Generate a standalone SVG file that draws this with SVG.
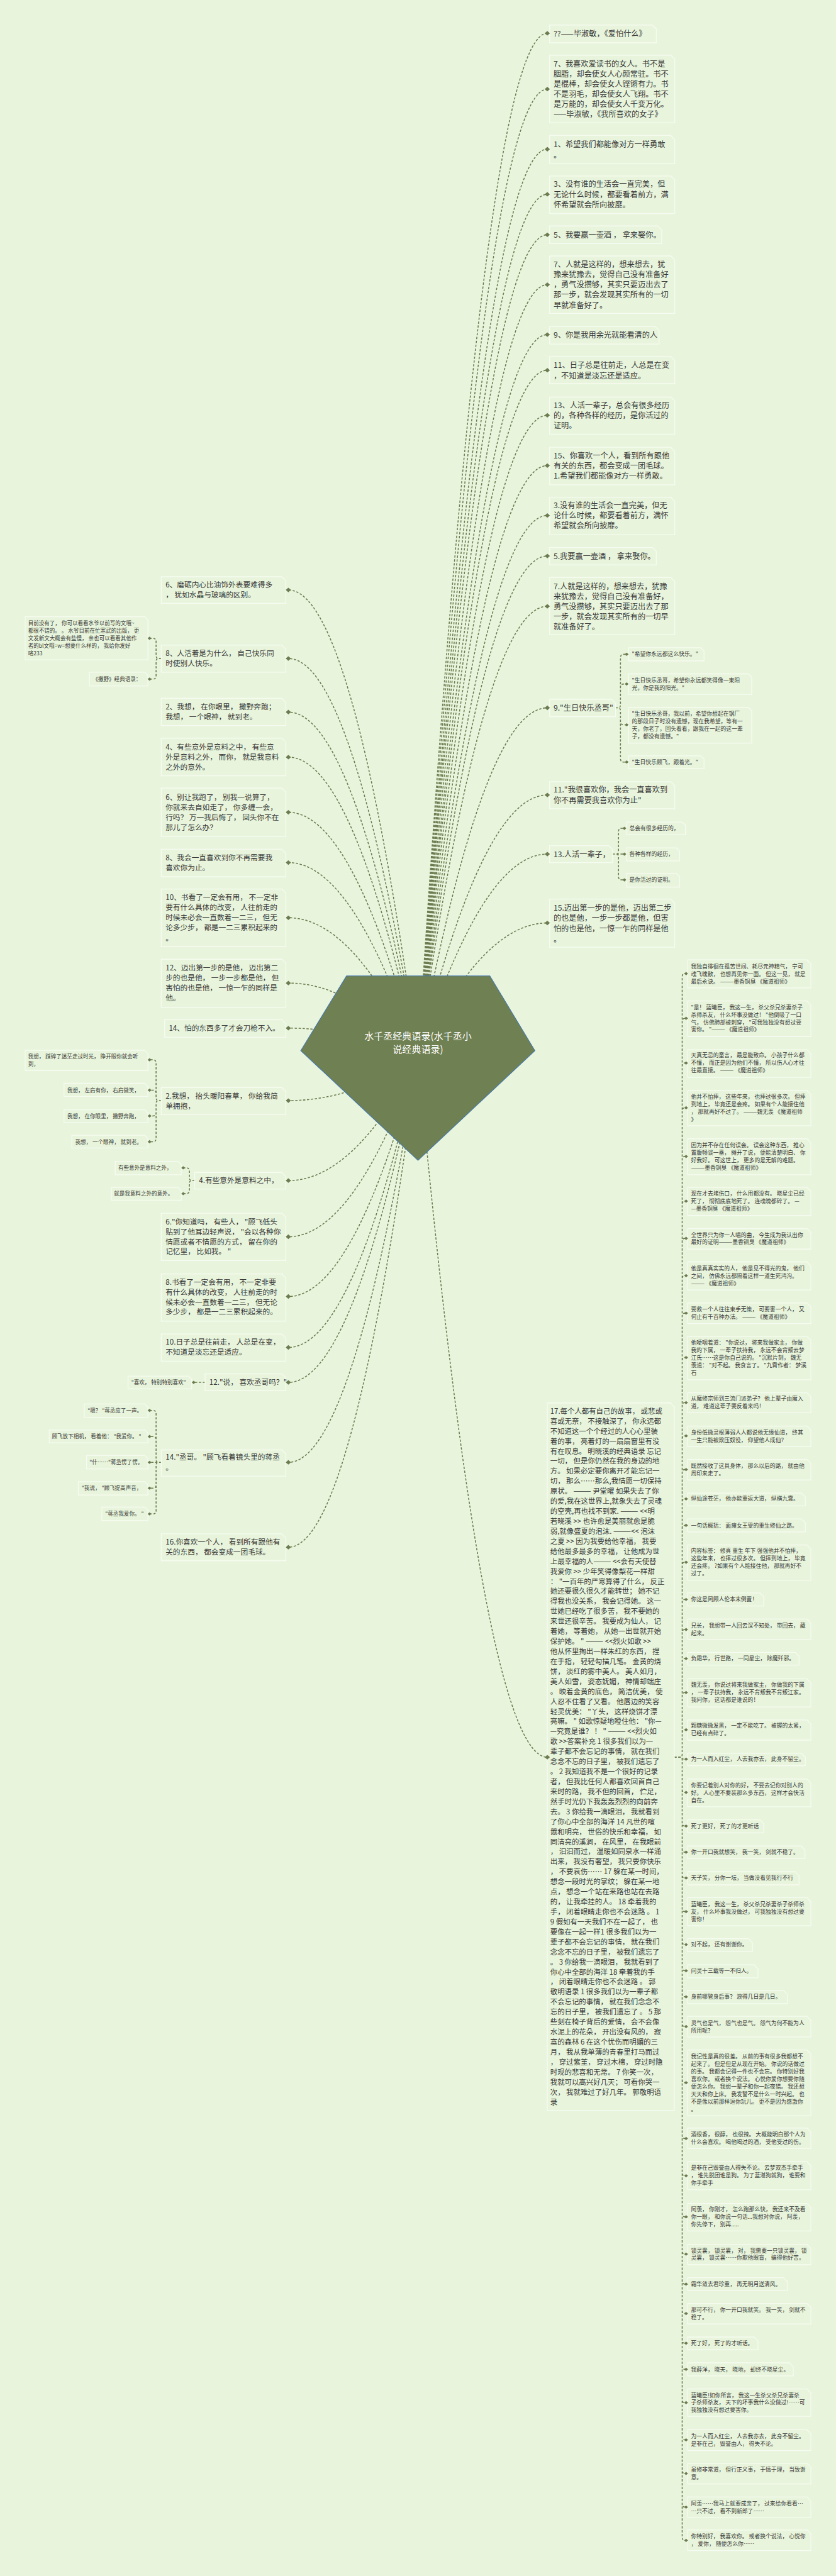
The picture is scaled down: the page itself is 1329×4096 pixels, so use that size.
<svg xmlns="http://www.w3.org/2000/svg" width="1329" height="4096" viewBox="0 0 1329 4096">
<defs>
<style>
.bx{fill:#e8f5dc;stroke:#f6fbf1;stroke-width:2.5}
.cn{fill:none;stroke:#6d7b50;stroke-width:3;stroke-dasharray:7 5}
.dm{fill:#6d7b50}
text{font-family:"Noto Sans CJK SC","Noto Sans",sans-serif;fill:#383838}
.a{font-size:23.5px}
.b{font-size:22.5px}
.s{font-size:17px}
.l{font-size:16.5px}
.p{font-size:22px}
.r{font-size:17px}
.tt{font-size:29px;fill:#ffffff}
</style>
<path id="d" class="dm" d="M-8 0L0-7L8 0L0 7Z"/>
<path id="e" class="dm" d="M-6 0L0-5L6 0L0 5Z"/>
</defs>
<rect width="1329" height="4096" fill="#e8f5dc"/>
<g transform="scale(0.519140625)">
<g id="connectors">
<path class="cn" d="M1280 3240Q1478 102 1676 102M1280 3240Q1478 273 1676 273M1280 3240Q1478 457 1676 457M1280 3240Q1478 595 1676 595M1280 3240Q1478 719 1676 719M1280 3240Q1478 872 1676 872M1280 3240Q1478 1025 1676 1025M1280 3240Q1478 1134 1676 1134M1280 3240Q1478 1272 1676 1272M1280 3240Q1478 1426 1676 1426M1280 3240Q1478 1579 1676 1579M1280 3240Q1478 1703 1676 1703M1280 3240Q1478 1857 1676 1857M1280 3240Q1478 2168 1676 2168M1280 3240Q1478 2435 1676 2435M1280 3240Q1478 2616 1676 2616M1280 3240Q1478 2827 1676 2827M1280 3240Q1478 5382 1676 5382"/>
<path class="cn" d="M1280 3240Q1082 1807 883 1807M1280 3240Q1082 2017 883 2017M1280 3240Q1082 2181 883 2181M1280 3240Q1082 2319 883 2319M1280 3240Q1082 2488 883 2488M1280 3240Q1082 2642 883 2642M1280 3240Q1082 2811 883 2811M1280 3240Q1082 3011 883 3011M1280 3240Q1082 3149 883 3149M1280 3240Q1082 3371 883 3371M1280 3240Q1082 3616 883 3616M1280 3240Q1082 3788 883 3788M1280 3240Q1082 3971 883 3971M1280 3240Q1082 4127 883 4127M1280 3240Q1082 4234 883 4234M1280 3240Q1082 4479 883 4479M1280 3240Q1082 4739 883 4739"/>
<path class="cn" d="M1885 2168H1892Q1900 2168 1900 2160V2014Q1900 2004 1910 2004H1919M1885 2168H1892Q1900 2168 1900 2160V2105Q1900 2095 1910 2095H1919M1885 2168H1892Q1900 2168 1900 2176V2210Q1900 2220 1910 2220H1919M1885 2168H1892Q1900 2168 1900 2176V2324Q1900 2334 1910 2334H1919"/>
<path class="cn" d="M1876 2616H1886Q1894 2616 1894 2608V2547Q1894 2537 1904 2537H1912M1876 2616H1912M1876 2616H1886Q1894 2616 1894 2624V2685Q1894 2695 1904 2695H1912"/>
<path class="cn" d="M494 2017H486Q478 2017 478 2009V1965Q478 1955 468 1955H458M494 2017H486Q478 2017 478 2025V2070Q478 2080 468 2080H458"/>
<path class="cn" d="M494 3371H486Q478 3371 478 3363V3256Q478 3246 468 3246H458M494 3371H486Q478 3371 478 3363V3349Q478 3339 468 3339H458M494 3371H486Q478 3371 478 3379V3408Q478 3418 468 3418H458M494 3371H486Q478 3371 478 3379V3487Q478 3497 468 3497H458"/>
<path class="cn" d="M596 3616H588Q580 3616 580 3608V3587Q580 3577 570 3577H561M596 3616H588Q580 3616 580 3624V3646Q580 3656 570 3656H561"/>
<path class="cn" d="M628 4234H593"/>
<path class="cn" d="M494 4479H486Q478 4479 478 4471V4330Q478 4320 468 4320H458M494 4479H486Q478 4479 478 4471V4410Q478 4400 468 4400H458M494 4479H458M494 4479H486Q478 4479 478 4487V4548Q478 4558 468 4558H458M494 4479H486Q478 4479 478 4487V4627Q478 4637 468 4637H458"/>
<path class="cn" d="M2065 5382H2081Q2089 5382 2089 5374V2992Q2089 2982 2097 2982H2101M2065 5382H2081Q2089 5382 2089 5374V3129Q2089 3119 2097 3119H2101M2065 5382H2081Q2089 5382 2089 5374V3266Q2089 3256 2097 3256H2101M2065 5382H2081Q2089 5382 2089 5374V3403Q2089 3393 2097 3393H2101M2065 5382H2081Q2089 5382 2089 5374V3552Q2089 3542 2097 3542H2101M2065 5382H2081Q2089 5382 2089 5374V3689Q2089 3679 2097 3679H2101M2065 5382H2081Q2089 5382 2089 5374V3803Q2089 3793 2097 3793H2101M2065 5382H2081Q2089 5382 2089 5374V3917Q2089 3907 2097 3907H2101M2065 5382H2081Q2089 5382 2089 5374V4032Q2089 4022 2097 4022H2101M2065 5382H2081Q2089 5382 2089 5374V4168Q2089 4158 2097 4158H2101M2065 5382H2081Q2089 5382 2089 5374V4306Q2089 4296 2097 4296H2101M2065 5382H2081Q2089 5382 2089 5374V4408Q2089 4398 2097 4398H2101M2065 5382H2081Q2089 5382 2089 5374V4511Q2089 4501 2097 4501H2101M2065 5382H2081Q2089 5382 2089 5374V4601Q2089 4591 2097 4591H2101M2065 5382H2081Q2089 5382 2089 5374V4682Q2089 4672 2097 4672H2101M2065 5382H2081Q2089 5382 2089 5374V4795Q2089 4785 2097 4785H2101M2065 5382H2081Q2089 5382 2089 5374V4909Q2089 4899 2097 4899H2101M2065 5382H2081Q2089 5382 2089 5374V5001Q2089 4991 2097 4991H2101M2065 5382H2081Q2089 5382 2089 5374V5090Q2089 5080 2097 5080H2101M2065 5382H2081Q2089 5382 2089 5374V5194Q2089 5184 2097 5184H2101M2065 5382H2081Q2089 5382 2089 5374V5308Q2089 5298 2097 5298H2101M2065 5382H2081Q2089 5382 2089 5386Q2089 5388 2097 5388H2101"/>
<path class="cn" d="M2065 5382H2081Q2089 5382 2089 5390V5480Q2089 5490 2097 5490H2101M2065 5382H2081Q2089 5382 2089 5390V5583Q2089 5593 2097 5593H2101M2065 5382H2081Q2089 5382 2089 5390V5663Q2089 5673 2097 5673H2101M2065 5382H2081Q2089 5382 2089 5390V5742Q2089 5752 2097 5752H2101M2065 5382H2081Q2089 5382 2089 5390V5845Q2089 5855 2097 5855H2101M2065 5382H2081Q2089 5382 2089 5390V5946Q2089 5956 2097 5956H2101M2065 5382H2081Q2089 5382 2089 5390V6026Q2089 6036 2097 6036H2101M2065 5382H2081Q2089 5382 2089 5390V6106Q2089 6116 2097 6116H2101M2065 5382H2081Q2089 5382 2089 5390V6197Q2089 6207 2097 6207H2101M2065 5382H2081Q2089 5382 2089 5390V6369Q2089 6379 2097 6379H2101M2065 5382H2081Q2089 5382 2089 5390V6540Q2089 6550 2097 6550H2101M2065 5382H2081Q2089 5382 2089 5390V6654Q2089 6664 2097 6664H2101M2065 5382H2081Q2089 5382 2089 5390V6780Q2089 6790 2097 6790H2101M2065 5382H2081Q2089 5382 2089 5390V6894Q2089 6904 2097 6904H2101M2065 5382H2081Q2089 5382 2089 5390V6986Q2089 6996 2097 6996H2101M2065 5382H2081Q2089 5382 2089 5390V7076Q2089 7086 2097 7086H2101M2065 5382H2081Q2089 5382 2089 5390V7167Q2089 7177 2097 7177H2101M2065 5382H2081Q2089 5382 2089 5390V7247Q2089 7257 2097 7257H2101M2065 5382H2081Q2089 5382 2089 5390V7349Q2089 7359 2097 7359H2101M2065 5382H2081Q2089 5382 2089 5390V7463Q2089 7473 2097 7473H2101M2065 5382H2081Q2089 5382 2089 5390V7566Q2089 7576 2097 7576H2101M2065 5382H2081Q2089 5382 2089 5390V7669Q2089 7679 2097 7679H2101M2065 5382H2081Q2089 5382 2089 5390V7771Q2089 7781 2097 7781H2101"/>
</g>
<g id="center">
<path d="M1061 2989H1500L1638 3218L1280 3554L921 3218Z" fill="#6f8053" stroke="#3f74b5" stroke-width="2"/>
<text class="tt" text-anchor="middle" x="1280" y="3184">水千丞经典语录(水千丞小<tspan x="1280" dy="41">说经典语录)</tspan></text>
</g>
<g id="n1"><path class="bx" d="M1683 77H1998L2010 89V131H1683Z"/><use href="#d" x="1676" y="102"/><text class="a" x="1695" y="111">??——毕淑敏，《爱怕什么》</text></g>
<g id="n2"><path class="bx" d="M1683 169H2054L2066 181V376H1683Z"/><use href="#d" x="1676" y="273"/><text class="a" y="204"><tspan x="1695">7、我喜欢爱读书的女人。书不是</tspan><tspan x="1695" dy="31">胭脂，却会使女人心颜常驻。书不</tspan><tspan x="1695" dy="31">是棍棒，却会使女人铿锵有力。书</tspan><tspan x="1695" dy="31">不是羽毛，却会使女人飞翔。书不</tspan><tspan x="1695" dy="31">是万能的，却会使女人千变万化。</tspan><tspan x="1695" dy="31">——毕淑敏，《我所喜欢的女子》</tspan></text></g>
<g id="n3"><path class="bx" d="M1683 415H2054L2066 427V501H1683Z"/><use href="#d" x="1676" y="457"/><text class="a" y="450"><tspan x="1695">1、希望我们都能像对方一样勇敢</tspan><tspan x="1695" dy="33">。</tspan></text></g>
<g id="n4"><path class="bx" d="M1683 539H2054L2066 551V654H1683Z"/><use href="#d" x="1676" y="595"/><text class="a" y="573"><tspan x="1695">3、没有谁的生活会一直完美，但</tspan><tspan x="1695" dy="31">无论什么时候，都要看着前方，满</tspan><tspan x="1695" dy="31">怀希望就会所向披靡。</tspan></text></g>
<g id="n5"><path class="bx" d="M1683 692H2014L2026 704V746H1683Z"/><use href="#d" x="1676" y="719"/><text class="a" x="1695" y="728">5、我要赢一壶酒 ， 拿来娶你。</text></g>
<g id="n6"><path class="bx" d="M1683 784H2054L2066 796V960H1683Z"/><use href="#d" x="1676" y="872"/><text class="a" y="819"><tspan x="1695">7、人就是这样的，想来想去，犹</tspan><tspan x="1695" dy="31">豫来犹豫去，觉得自己没有准备好</tspan><tspan x="1695" dy="31">，勇气没攒够，其实只要迈出去了</tspan><tspan x="1695" dy="31">那一步，就会发现其实所有的一切</tspan><tspan x="1695" dy="31">早就准备好了。</tspan></text></g>
<g id="n7"><path class="bx" d="M1683 1000H2006L2018 1012V1054H1683Z"/><use href="#d" x="1676" y="1025"/><text class="a" x="1695" y="1035">9、你是我用余光就能看清的人</text></g>
<g id="n8"><path class="bx" d="M1683 1092H2054L2066 1104V1175H1683Z"/><use href="#d" x="1676" y="1134"/><text class="a" y="1127"><tspan x="1695">11、日子总是往前走，人总是在变</tspan><tspan x="1695" dy="32">，不知道是淡忘还是适应。</tspan></text></g>
<g id="n9"><path class="bx" d="M1683 1216H2054L2066 1228V1330H1683Z"/><use href="#d" x="1676" y="1272"/><text class="a" y="1250"><tspan x="1695">13、人活一辈子，总会有很多经历</tspan><tspan x="1695" dy="31">的，各种各样的经历，是你活过的</tspan><tspan x="1695" dy="31">证明。</tspan></text></g>
<g id="n10"><path class="bx" d="M1683 1370H2054L2066 1382V1485H1683Z"/><use href="#d" x="1676" y="1426"/><text class="a" y="1404"><tspan x="1695">15、你喜欢一个人，看到所有跟他</tspan><tspan x="1695" dy="31">有关的东西，都会变成一团毛球。</tspan><tspan x="1695" dy="31">1.希望我们都能像对方一样勇敢。</tspan></text></g>
<g id="n11"><path class="bx" d="M1683 1523H2054L2066 1535V1638H1683Z"/><use href="#d" x="1676" y="1579"/><text class="a" y="1557"><tspan x="1695">3.没有谁的生活会一直完美，但无</tspan><tspan x="1695" dy="31">论什么时候，都要看着前方，满怀</tspan><tspan x="1695" dy="31">希望就会所向披靡。</tspan></text></g>
<g id="n12"><path class="bx" d="M1683 1677H1998L2010 1689V1730H1683Z"/><use href="#d" x="1676" y="1703"/><text class="a" x="1695" y="1712">5.我要赢一壶酒 ， 拿来娶你。</text></g>
<g id="n13"><path class="bx" d="M1683 1769H2054L2066 1781V1944H1683Z"/><use href="#d" x="1676" y="1857"/><text class="a" y="1804"><tspan x="1695">7.人就是这样的，想来想去，犹豫</tspan><tspan x="1695" dy="31">来犹豫去，觉得自己没有准备好，</tspan><tspan x="1695" dy="31">勇气没攒够，其实只要迈出去了那</tspan><tspan x="1695" dy="31">一步，就会发现其实所有的一切早</tspan><tspan x="1695" dy="31">就准备好了。</tspan></text></g>
<g id="n14"><path class="bx" d="M1683 2142H1873L1885 2154V2195H1683Z"/><use href="#d" x="1676" y="2168"/><text class="a" x="1695" y="2177">9."生日快乐丞哥"</text></g>
<g id="n14a"><path class="bx" d="M1925 1984H2146L2156 1994V2024H1925Z"/><use href="#e" x="1919" y="2004"/><text class="s" x="1935" y="2010">"希望你永远都这么快乐。"</text></g>
<g id="n14b"><path class="bx" d="M1925 2064H2292L2302 2074V2127H1925Z"/><use href="#e" x="1919" y="2095"/><text class="s" y="2090"><tspan x="1935">"生日快乐丞哥，希望你永远都笑得像一束阳</tspan><tspan x="1935" dy="23">光，你是我的阳光。"</tspan></text></g>
<g id="n14c"><path class="bx" d="M1925 2167H2292L2302 2177V2276H1925Z"/><use href="#e" x="1919" y="2220"/><text class="s" y="2192"><tspan x="1935">"生日快乐丞哥，我以前，希望你想起在钢厂</tspan><tspan x="1935" dy="23">的那段日子时没有遗憾，现在我希望，等有一</tspan><tspan x="1935" dy="23">天，你老了，回头看看，跟我在一起的这一辈</tspan><tspan x="1935" dy="23">子，都没有遗憾。"</tspan></text></g>
<g id="n14d"><path class="bx" d="M1925 2315H2146L2156 2325V2354H1925Z"/><use href="#e" x="1919" y="2334"/><text class="s" x="1935" y="2340">"生日快乐顾飞，跟着光。"</text></g>
<g id="n15"><path class="bx" d="M1683 2394H2054L2066 2406V2477H1683Z"/><use href="#d" x="1676" y="2435"/><text class="a" y="2428"><tspan x="1695">11."我很喜欢你，我会一直喜欢到</tspan><tspan x="1695" dy="31">你不再需要我喜欢你为止"</tspan></text></g>
<g id="n16"><path class="bx" d="M1683 2590H1864L1876 2602V2642H1683Z"/><use href="#d" x="1676" y="2616"/><text class="a" x="1695" y="2625">13.人活一辈子，</text></g>
<g id="n16a"><path class="bx" d="M1919 2518H2089L2099 2528V2557H1919Z"/><use href="#e" x="1912" y="2537"/><text class="s" x="1927" y="2543">总会有很多经历的，</text></g>
<g id="n16b"><path class="bx" d="M1919 2597H2071L2081 2607V2637H1919Z"/><use href="#e" x="1912" y="2616"/><text class="s" x="1927" y="2622">各种各样的经历，</text></g>
<g id="n16c"><path class="bx" d="M1919 2675H2071L2081 2685V2717H1919Z"/><use href="#e" x="1912" y="2695"/><text class="s" x="1927" y="2701">是你活过的证明。</text></g>
<g id="n17"><path class="bx" d="M1683 2754H2054L2066 2766V2901H1683Z"/><use href="#d" x="1676" y="2827"/><text class="a" y="2790"><tspan x="1695">15.迈出第一步的是他，迈出第二步</tspan><tspan x="1695" dy="31">的也是他，一步一步都是他，但害</tspan><tspan x="1695" dy="31">怕的也是他，一惊一乍的同样是他</tspan><tspan x="1695" dy="33">。</tspan></text></g>
<g id="l1"><path class="bx" d="M494 1766H863L875 1778V1848H494Z"/><use href="#d" x="883" y="1807"/><text class="b" y="1800"><tspan x="507">6、磨砺内心比油饰外表要难得多</tspan><tspan x="507" dy="30.6">， 犹如水晶与玻璃的区别。</tspan></text></g>
<g id="l2"><path class="bx" d="M494 1976H863L875 1988V2059H494Z"/><use href="#d" x="883" y="2017"/><text class="b" y="2010"><tspan x="507">8、人活着是为什么， 自己快乐同</tspan><tspan x="507" dy="30.6">时使别人快乐。</tspan></text></g>
<g id="l2a"><path class="bx" d="M77 1889H443L453 1899V2021H77Z"/><use href="#e" x="458" y="1955"/><text class="l" y="1915"><tspan x="86">目前没有了， 你可以看看水爷以前写的文哦~</tspan><tspan x="86" dy="23">都很不错的。 。 水爷目前在忙寒武的出版， 更</tspan><tspan x="86" dy="23">文发新文大概会有些慢， 亲也可以看看其他作</tspan><tspan x="86" dy="23">者的bl文哦=w=想要什么样的， 我给你发好</tspan><tspan x="86" dy="23">咯233</tspan></text></g>
<g id="l2b"><path class="bx" d="M274 2059H443L453 2069V2101H274Z"/><use href="#e" x="458" y="2080"/><text class="l" x="284" y="2086">《撒野》经典语录：</text></g>
<g id="l3"><path class="bx" d="M494 2139H863L875 2151V2222H494Z"/><use href="#d" x="883" y="2181"/><text class="b" y="2173"><tspan x="507">2、我想， 在你眼里， 撒野奔跑；</tspan><tspan x="507" dy="30.6">我想， 一个眼神， 就到老。</tspan></text></g>
<g id="l4"><path class="bx" d="M494 2261H863L875 2273V2376H494Z"/><use href="#d" x="883" y="2319"/><text class="b" y="2297"><tspan x="507">4、有些意外是意料之中， 有些意</tspan><tspan x="507" dy="30.6">外是意料之外， 而你， 就是我意料</tspan><tspan x="507" dy="30.6">之外的意外。</tspan></text></g>
<g id="l5"><path class="bx" d="M494 2414H863L875 2426V2562H494Z"/><use href="#d" x="883" y="2488"/><text class="b" y="2450"><tspan x="507">6、别让我跑了， 别我一说算了，</tspan><tspan x="507" dy="30.6">你就来去自如走了， 你多缠一会，</tspan><tspan x="507" dy="30.6">行吗？ 万一我后悔了， 回头你不在</tspan><tspan x="507" dy="30.6">那儿了怎么办？</tspan></text></g>
<g id="l6"><path class="bx" d="M494 2601H863L875 2613V2685H494Z"/><use href="#d" x="883" y="2642"/><text class="b" y="2635"><tspan x="507">8、我会一直喜欢到你不再需要我</tspan><tspan x="507" dy="30.6">喜欢你为止。</tspan></text></g>
<g id="l7"><path class="bx" d="M494 2723H863L875 2735V2899H494Z"/><use href="#d" x="883" y="2811"/><text class="b" y="2757"><tspan x="507">10、书看了一定会有用， 不一定非</tspan><tspan x="507" dy="30.6">要有什么具体的改变， 人往前走的</tspan><tspan x="507" dy="30.6">时候未必会一直数着一二三， 但无</tspan><tspan x="507" dy="30.6">论多少步， 都是一二三累积起来的</tspan><tspan x="507" dy="32">。</tspan></text></g>
<g id="l8"><path class="bx" d="M494 2938H863L875 2950V3085H494Z"/><use href="#d" x="883" y="3011"/><text class="b" y="2973"><tspan x="507">12、迈出第一步的是他， 迈出第二</tspan><tspan x="507" dy="30.6">步的也是他， 一步一步都是他， 但</tspan><tspan x="507" dy="30.6">害怕的也是他， 一惊一乍的同样是</tspan><tspan x="507" dy="30.6">他。</tspan></text></g>
<g id="l9"><path class="bx" d="M504 3123H863L875 3135V3177H504Z"/><use href="#d" x="883" y="3149"/><text class="b" x="517" y="3157">14、怕的东西多了才会刀枪不入。</text></g>
<g id="l10"><path class="bx" d="M494 3331H863L875 3343V3414H494Z"/><use href="#d" x="883" y="3371"/><text class="b" y="3366"><tspan x="507">2.我想， 抬头暖阳春草， 你给我简</tspan><tspan x="507" dy="30.6">单拥抱，</tspan></text></g>
<g id="l10a"><path class="bx" d="M77 3217H443L453 3227V3279H77Z"/><use href="#e" x="458" y="3246"/><text class="l" y="3242"><tspan x="86">我想， 踩碎了迷茫走过时光， 睁开眼你就会听</tspan><tspan x="86" dy="23">到，</tspan></text></g>
<g id="l10b"><path class="bx" d="M196 3318H443L453 3328V3358H196Z"/><use href="#e" x="458" y="3339"/><text class="l" x="206" y="3345">我想， 左肩有你， 右肩微笑，</text></g>
<g id="l10c"><path class="bx" d="M196 3399H443L453 3409V3438H196Z"/><use href="#e" x="458" y="3418"/><text class="l" x="206" y="3424">我想， 在你眼里， 撒野奔跑，</text></g>
<g id="l10d"><path class="bx" d="M220 3477H443L453 3487V3516H220Z"/><use href="#e" x="458" y="3497"/><text class="l" x="230" y="3503">我想， 一个眼神， 就到老。</text></g>
<g id="l11"><path class="bx" d="M596 3591H863L875 3603V3642H596Z"/><use href="#d" x="883" y="3616"/><text class="b" x="609" y="3624">4.有些意外是意料之中，</text></g>
<g id="l11a"><path class="bx" d="M353 3557H545L555 3567V3598H353Z"/><use href="#e" x="561" y="3577"/><text class="l" x="362" y="3583">有些意外是意料之外，</text></g>
<g id="l11b"><path class="bx" d="M341 3637H545L555 3647V3676H341Z"/><use href="#e" x="561" y="3656"/><text class="l" x="349" y="3662">就是我意料之外的意外。</text></g>
<g id="l12"><path class="bx" d="M494 3716H863L875 3728V3861H494Z"/><use href="#d" x="883" y="3788"/><text class="b" y="3750"><tspan x="507">6."你知道吗， 有些人， "顾飞低头</tspan><tspan x="507" dy="30.6">贴到了他耳边轻声说， "会以各种你</tspan><tspan x="507" dy="30.6">情愿或者不情愿的方式， 留在你的</tspan><tspan x="507" dy="30.6">记忆里， 比如我。 "</tspan></text></g>
<g id="l13"><path class="bx" d="M494 3902H863L875 3914V4047H494Z"/><use href="#d" x="883" y="3971"/><text class="b" y="3935"><tspan x="507">8.书看了一定会有用， 不一定非要</tspan><tspan x="507" dy="30.6">有什么具体的改变， 人往前走的时</tspan><tspan x="507" dy="30.6">候未必会一直数着一二三， 但无论</tspan><tspan x="507" dy="30.6">多少步， 都是一二三累积起来的。</tspan></text></g>
<g id="l14"><path class="bx" d="M494 4086H863L875 4098V4169H494Z"/><use href="#d" x="883" y="4127"/><text class="b" y="4119"><tspan x="507">10.日子总是往前走， 人总是在变，</tspan><tspan x="507" dy="30.6">不知道是淡忘还是适应。</tspan></text></g>
<g id="l15"><path class="bx" d="M628 4208H863L875 4220V4259H628Z"/><use href="#d" x="883" y="4234"/><text class="b" x="641" y="4242">12."说， 喜欢丞哥吗？"</text></g>
<g id="l15a"><path class="bx" d="M392 4215H577L587 4225V4254H392Z"/><use href="#e" x="593" y="4234"/><text class="l" x="402" y="4240">"喜欢， 特别特别喜欢"</text></g>
<g id="l16"><path class="bx" d="M494 4441H863L875 4453V4521H494Z"/><use href="#d" x="883" y="4479"/><text class="b" y="4471"><tspan x="507">14."丞哥。 "顾飞看着镜头里的蒋丞</tspan><tspan x="507" dy="33">。</tspan></text></g>
<g id="l16a"><path class="bx" d="M258 4300H443L453 4310V4341H258Z"/><use href="#e" x="458" y="4320"/><text class="l" x="268" y="4326">"嗯？ "蒋丞应了一声。</text></g>
<g id="l16b"><path class="bx" d="M151 4380H443L453 4390V4419H151Z"/><use href="#e" x="458" y="4400"/><text class="l" x="159" y="4406">顾飞放下相机， 看着他： "我爱你。 "</text></g>
<g id="l16c"><path class="bx" d="M265 4458H443L453 4468V4499H265Z"/><use href="#e" x="458" y="4479"/><text class="l" x="274" y="4485">"什……"蒋丞愣了愣。</text></g>
<g id="l16d"><path class="bx" d="M240 4538H443L453 4548V4579H240Z"/><use href="#e" x="458" y="4558"/><text class="l" x="250" y="4564">"我说， "顾飞提高声音，</text></g>
<g id="l16e"><path class="bx" d="M312 4616H443L453 4626V4657H312Z"/><use href="#e" x="458" y="4637"/><text class="l" x="322" y="4643">"蒋丞我爱你。 "</text></g>
<g id="l17"><path class="bx" d="M494 4698H863L875 4710V4780H494Z"/><use href="#d" x="883" y="4739"/><text class="b" y="4731"><tspan x="507">16.你喜欢一个人， 看到所有跟他有</tspan><tspan x="507" dy="30.6">关的东西， 都会变成一团毛球。</tspan></text></g>
<g id="p17"><path class="bx" d="M1676 4297H2053L2065 4309V6464H1676Z"/><use href="#d" x="1676" y="5382"/><text class="p" y="4330"><tspan x="1685">17.每个人都有自己的故事， 或悲或</tspan><tspan x="1685" dy="30.67">喜或无奈， 不接触深了， 你永远都</tspan><tspan x="1685" dy="30.67">不知道这一个个经过的人心心里装</tspan><tspan x="1685" dy="30.67">着的事， 亮着灯的一扇扇窗里有没</tspan><tspan x="1685" dy="30.67">有在叹息。 明晓溪的经典语录 忘记</tspan><tspan x="1685" dy="30.67">一切， 但是你仍然在我的身边的地</tspan><tspan x="1685" dy="30.67">方。 如果必定要你离开才能忘记一</tspan><tspan x="1685" dy="30.67">切， 那么……那么,我情愿一切保持</tspan><tspan x="1685" dy="30.67">原状。 ——— 尹堂曜 如果失去了你</tspan><tspan x="1685" dy="30.67">的爱,我在这世界上,就象失去了灵魂</tspan><tspan x="1685" dy="30.67">的空壳,再也找不到家. ——— &lt;&lt;明</tspan><tspan x="1685" dy="30.67">若晓溪 &gt;&gt; 也许愈是美丽就愈是脆</tspan><tspan x="1685" dy="30.67">弱,就像盛夏的泡沫. ———&lt;&lt; 泡沫</tspan><tspan x="1685" dy="30.67">之夏 &gt;&gt; 因为我要给他幸福， 我要</tspan><tspan x="1685" dy="30.67">给他最多最多的幸福， 让他成为世</tspan><tspan x="1685" dy="30.67">上最幸福的人——— &lt;&lt;会有天使替</tspan><tspan x="1685" dy="30.67">我爱你 &gt;&gt; 少年笑得像梨花一样甜</tspan><tspan x="1685" dy="30.67">： "一百年的严寒算得了什么， 反正</tspan><tspan x="1685" dy="30.67">她还要很久很久才能转世； 她不记</tspan><tspan x="1685" dy="30.67">得我也没关系， 我会记得她。 这一</tspan><tspan x="1685" dy="30.67">世她已经吃了很多苦， 我不要她的</tspan><tspan x="1685" dy="30.67">来世还很辛苦。 我要成为仙人， 记</tspan><tspan x="1685" dy="30.67">着她， 等着她， 从她一出世就开始</tspan><tspan x="1685" dy="30.67">保护她。 " ——— &lt;&lt;烈火如歌 &gt;&gt;</tspan><tspan x="1685" dy="30.67">他从怀里掏出一样朱红的东西， 捏</tspan><tspan x="1685" dy="30.67">在手指， 轻轻勾描几笔。 金黄的烧</tspan><tspan x="1685" dy="30.67">饼， 淡红的雾中美人。 美人如月，</tspan><tspan x="1685" dy="30.67">美人如雪， 姿态妩媚， 神情却端庄</tspan><tspan x="1685" dy="30.67">。 映着金黄的底色， 简洁优美， 使</tspan><tspan x="1685" dy="30.67">人忍不住看了又看。 他唇边的笑容</tspan><tspan x="1685" dy="30.67">轻灵优美： "丫头， 这样烧饼才漂</tspan><tspan x="1685" dy="30.67">亮嘛。 " 如歌惊疑地瞪住他： "你—</tspan><tspan x="1685" dy="30.67">—究竟是谁？ ！ " ——— &lt;&lt;烈火如</tspan><tspan x="1685" dy="30.67">歌 &gt;&gt;答案补充 1 很多我们以为一</tspan><tspan x="1685" dy="30.67">辈子都不会忘记的事情， 就在我们</tspan><tspan x="1685" dy="30.67">念念不忘的日子里， 被我们遗忘了</tspan><tspan x="1685" dy="30.67">。 2 我知道我不是一个很好的记录</tspan><tspan x="1685" dy="30.67">者， 但我比任何人都喜欢回首自己</tspan><tspan x="1685" dy="30.67">来时的路， 我不但的回首， 伫足，</tspan><tspan x="1685" dy="30.67">然手时光仍下我轰轰烈烈的向前奔</tspan><tspan x="1685" dy="30.67">去。 3 你给我一滴眼泪， 我就看到</tspan><tspan x="1685" dy="30.67">了你心中全部的海洋 14 凡世的喧</tspan><tspan x="1685" dy="30.67">嚣和明亮， 世俗的快乐和幸福， 如</tspan><tspan x="1685" dy="30.67">同清亮的溪涧， 在风里， 在我眼前</tspan><tspan x="1685" dy="30.67">， 汩汩而过， 温暖如同泉水一样涌</tspan><tspan x="1685" dy="30.67">出来， 我没有奢望， 我只要你快乐</tspan><tspan x="1685" dy="30.67">， 不要哀伤…… 17 躲在某一时间，</tspan><tspan x="1685" dy="30.67">想念一段时光的掌纹； 躲在某一地</tspan><tspan x="1685" dy="30.67">点， 想念一个站在来路也站在去路</tspan><tspan x="1685" dy="30.67">的， 让我牵挂的人。 18 牵着我的</tspan><tspan x="1685" dy="30.67">手， 闭着眼睛走你也不会迷路 。 1</tspan><tspan x="1685" dy="30.67">9 假如有一天我们不在一起了， 也</tspan><tspan x="1685" dy="30.67">要像在一起一样1 很多我们以为一</tspan><tspan x="1685" dy="30.67">辈子都不会忘记的事情， 就在我们</tspan><tspan x="1685" dy="30.67">念念不忘的日子里， 被我们遗忘了</tspan><tspan x="1685" dy="30.67">。 3 你给我一滴眼泪， 我就看到了</tspan><tspan x="1685" dy="30.67">你心中全部的海洋 18 牵着我的手</tspan><tspan x="1685" dy="30.67">， 闭着眼睛走你也不会迷路 。 郭</tspan><tspan x="1685" dy="30.67">敬明语录 1 很多我们以为一辈子都</tspan><tspan x="1685" dy="30.67">不会忘记的事情， 就在我们念念不</tspan><tspan x="1685" dy="30.67">忘的日子里， 被我们遗忘了 。 5 那</tspan><tspan x="1685" dy="30.67">些刻在椅子背后的爱情， 会不会像</tspan><tspan x="1685" dy="30.67">水泥上的花朵， 开出没有风的， 寂</tspan><tspan x="1685" dy="30.67">寞的森林 6 在这个忧伤而明媚的三</tspan><tspan x="1685" dy="30.67">月， 我从我单薄的青春里打马而过</tspan><tspan x="1685" dy="30.67">， 穿过紫堇， 穿过木棉， 穿过时隐</tspan><tspan x="1685" dy="30.67">时现的悲喜和无常。 7 你笑一次，</tspan><tspan x="1685" dy="30.67">我就可以高兴好几天； 可看你哭一</tspan><tspan x="1685" dy="30.67">次， 我就难过了好几年。 郭敬明语</tspan><tspan x="1685" dy="30.67">录</tspan></text></g>
<g id="r1"><path class="bx" d="M2106 2940H2471L2483 2952V3026H2106Z"/><use href="#e" x="2101" y="2982"/><text class="r" y="2966"><tspan x="2116">我独自徘徊在孤苦世间、耗尽元神精气， 宁可</tspan><tspan x="2116" dy="23">魂飞魄散， 也想再见你一面。 但这一见， 就是</tspan><tspan x="2116" dy="23">最后永诀。 ———墨香铜臭 《魔道祖师》</tspan></text></g>
<g id="r2"><path class="bx" d="M2106 3066H2471L2483 3078V3175H2106Z"/><use href="#e" x="2101" y="3119"/><text class="r" y="3091"><tspan x="2116">"是！ 蓝曦臣， 我这一生， 杀父杀兄杀妻杀子</tspan><tspan x="2116" dy="23">杀师杀友， 什么坏事没做过！ "他倒吸了一口</tspan><tspan x="2116" dy="23">气， 仿佛肺部被刺穿， "可我独独没有想过要</tspan><tspan x="2116" dy="23">害你。 "——— 《魔道祖师》</tspan></text></g>
<g id="r3"><path class="bx" d="M2106 3215H2471L2483 3227V3300H2106Z"/><use href="#e" x="2101" y="3256"/><text class="r" y="3239"><tspan x="2116">天真无忌的童言， 最是能致命。 小孩子什么都</tspan><tspan x="2116" dy="23">不懂， 而正是因为他们不懂， 所以伤人心才往</tspan><tspan x="2116" dy="23">往最直接。 ——— 《魔道祖师》</tspan></text></g>
<g id="r4"><path class="bx" d="M2106 3340H2471L2483 3352V3448H2106Z"/><use href="#e" x="2101" y="3393"/><text class="r" y="3365"><tspan x="2116">他并不怕摔， 这些年来， 也摔过很多次。 但摔</tspan><tspan x="2116" dy="23">到地上， 毕竟还是会疼。 如果有个人能接住他</tspan><tspan x="2116" dy="23">， 那就再好不过了。 ———魏无羡 《魔道祖师</tspan><tspan x="2116" dy="23">》</tspan></text></g>
<g id="r5"><path class="bx" d="M2106 3488H2471L2483 3500V3598H2106Z"/><use href="#e" x="2101" y="3542"/><text class="r" y="3513"><tspan x="2116">因为并不存在任何误会。 误会这种东西， 推心</tspan><tspan x="2116" dy="23">置腹畅谈一番， 摊开了说， 便能清楚明白、 你</tspan><tspan x="2116" dy="23">好我好。 可这世上， 更多的是无解的难题。</tspan><tspan x="2116" dy="23">———墨香铜臭 《魔道祖师》</tspan></text></g>
<g id="r6"><path class="bx" d="M2106 3637H2471L2483 3649V3723H2106Z"/><use href="#e" x="2101" y="3679"/><text class="r" y="3662"><tspan x="2116">现在才去堵伤口， 什么用都没有。 晓星尘已经</tspan><tspan x="2116" dy="23">死了， 彻彻底底地死了。 连魂魄都碎了。 —</tspan><tspan x="2116" dy="23">—墨香铜臭 《魔道祖师》</tspan></text></g>
<g id="r7"><path class="bx" d="M2106 3763H2471L2483 3775V3826H2106Z"/><use href="#e" x="2101" y="3793"/><text class="r" y="3788"><tspan x="2116">全世界只为你一人唱的曲， 今生成为我认出你</tspan><tspan x="2116" dy="23">最好的证明———墨香铜臭 《魔道祖师》</tspan></text></g>
<g id="r8"><path class="bx" d="M2106 3865H2471L2483 3877V3951H2106Z"/><use href="#e" x="2101" y="3907"/><text class="r" y="3891"><tspan x="2116">他是真真实实的人， 他是见不得光的鬼， 他们</tspan><tspan x="2116" dy="23">之间， 仿佛永远都隔着这样一道生死鸿沟。</tspan><tspan x="2116" dy="23">——— 《魔道祖师》</tspan></text></g>
<g id="r9"><path class="bx" d="M2106 3991H2471L2483 4003V4054H2106Z"/><use href="#e" x="2101" y="4022"/><text class="r" y="4016"><tspan x="2116">要救一个人往往束手无策， 可要害一个人， 又</tspan><tspan x="2116" dy="23">何止有千百种办法。 ——— 《魔道祖师》</tspan></text></g>
<g id="r10"><path class="bx" d="M2106 4093H2471L2483 4105V4226H2106Z"/><use href="#e" x="2101" y="4158"/><text class="r" y="4118"><tspan x="2116">他哽咽着道： "你说过， 将来我做家主， 你做</tspan><tspan x="2116" dy="23">我的下属， 一辈子扶持我， 永远不会背叛云梦</tspan><tspan x="2116" dy="23">江氏……这是你自己说的。 "沉默片刻， 魏无</tspan><tspan x="2116" dy="23">羡道： "对不起。 我食言了。 "九霄作者： 梦溪</tspan><tspan x="2116" dy="23">石</tspan></text></g>
<g id="r11"><path class="bx" d="M2106 4266H2471L2483 4278V4327H2106Z"/><use href="#e" x="2101" y="4296"/><text class="r" y="4290"><tspan x="2116">从魔修宗师到三流门派弟子？ 他上辈子由魔入</tspan><tspan x="2116" dy="23">道， 难道这辈子要反着来吗！</tspan></text></g>
<g id="r12"><path class="bx" d="M2106 4368H2471L2483 4380V4431H2106Z"/><use href="#e" x="2101" y="4398"/><text class="r" y="4393"><tspan x="2116">身份低微灵根薄弱人人都说他无缘仙道， 终其</tspan><tspan x="2116" dy="23">一生只能被欺压奴役， 仰望他人成仙？</tspan></text></g>
<g id="r13"><path class="bx" d="M2106 4470H2471L2483 4482V4533H2106Z"/><use href="#e" x="2101" y="4501"/><text class="r" y="4496"><tspan x="2116">既然接收了这具身体， 那么以后的路， 就由他</tspan><tspan x="2116" dy="23">周印来走了。</tspan></text></g>
<g id="r14"><path class="bx" d="M2106 4573H2454L2466 4585V4612H2106Z"/><use href="#e" x="2101" y="4591"/><text class="r" x="2116" y="4597">纵仙途苍茫， 他亦能重返大道， 纵横九霄。</text></g>
<g id="r15"><path class="bx" d="M2106 4652H2454L2466 4664V4692H2106Z"/><use href="#e" x="2101" y="4672"/><text class="r" x="2116" y="4678">一句话概括： 面瘫女王受的重生修仙之路。</text></g>
<g id="r16"><path class="bx" d="M2106 4732H2471L2483 4744V4840H2106Z"/><use href="#e" x="2101" y="4785"/><text class="r" y="4756"><tspan x="2116">内容标签： 修真 重生 年下 强强他并不怕摔，</tspan><tspan x="2116" dy="23">这些年来， 也摔过很多次。 但摔到地上， 毕竟</tspan><tspan x="2116" dy="23">还会疼。 ?如果有个人能接住他， 那就再好不</tspan><tspan x="2116" dy="23">过了。</tspan></text></g>
<g id="r17"><path class="bx" d="M2106 4879H2327L2339 4891V4919H2106Z"/><use href="#e" x="2101" y="4899"/><text class="r" x="2116" y="4905">你这是罔顾人伦本末倒置！</text></g>
<g id="r18"><path class="bx" d="M2106 4959H2471L2483 4971V5021H2106Z"/><use href="#e" x="2101" y="4991"/><text class="r" y="4985"><tspan x="2116">兄长， 我想带一人回云深不知处， 带回去， 藏</tspan><tspan x="2116" dy="23">起来。</tspan></text></g>
<g id="r19"><path class="bx" d="M2106 5061H2435L2447 5073V5100H2106Z"/><use href="#e" x="2101" y="5080"/><text class="r" x="2116" y="5086">负霜华， 行世路， 一同星尘， 除魔歼邪。</text></g>
<g id="r20"><path class="bx" d="M2106 5142H2471L2483 5154V5228H2106Z"/><use href="#e" x="2101" y="5184"/><text class="r" y="5167"><tspan x="2116">魏无羡， 你说过将来我做家主， 你做我的下属</tspan><tspan x="2116" dy="23">， 一辈子扶持我， 永远不背叛我不背叛江家。</tspan><tspan x="2116" dy="23">我问你， 这话都是谁说的！</tspan></text></g>
<g id="r21"><path class="bx" d="M2106 5268H2471L2483 5280V5330H2106Z"/><use href="#e" x="2101" y="5298"/><text class="r" y="5292"><tspan x="2116">颗糖微微发黑， 一定不能吃了。 被握的太紧，</tspan><tspan x="2116" dy="23">已经有点碎了。</tspan></text></g>
<g id="r22"><path class="bx" d="M2106 5370H2454L2466 5382V5408H2106Z"/><use href="#e" x="2101" y="5388"/><text class="r" x="2116" y="5394">为一人而入红尘， 人去我亦去， 此身不留尘。</text></g>
<g id="r23"><path class="bx" d="M2106 5449H2471L2483 5461V5534H2106Z"/><use href="#e" x="2101" y="5490"/><text class="r" y="5475"><tspan x="2116">你要记着别人对你的好， 不要去记你对别人的</tspan><tspan x="2116" dy="23">好。 人心里不要装那么多东西， 这样才会快活</tspan><tspan x="2116" dy="23">自在。</tspan></text></g>
<g id="r24"><path class="bx" d="M2106 5574H2327L2339 5586V5614H2106Z"/><use href="#e" x="2101" y="5593"/><text class="r" x="2116" y="5599">死了更好， 死了的才更听话</text></g>
<g id="r25"><path class="bx" d="M2106 5654H2453L2465 5666V5693H2106Z"/><use href="#e" x="2101" y="5673"/><text class="r" x="2116" y="5679">你一开口我就想笑， 我一笑， 剑就不稳了。</text></g>
<g id="r26"><path class="bx" d="M2106 5733H2435L2447 5745V5773H2106Z"/><use href="#e" x="2101" y="5752"/><text class="r" x="2116" y="5758">天子笑， 分你一坛， 当做没看见我行不行</text></g>
<g id="r27"><path class="bx" d="M2106 5812H2471L2483 5824V5898H2106Z"/><use href="#e" x="2101" y="5855"/><text class="r" y="5838"><tspan x="2116">蓝曦臣， 我这一生， 杀父杀兄杀妻杀子杀师杀</tspan><tspan x="2116" dy="23">友， 什么坏事我没做过， 可我独独没有想过要</tspan><tspan x="2116" dy="23">害你！</tspan></text></g>
<g id="r28"><path class="bx" d="M2106 5938H2292L2304 5950V5978H2106Z"/><use href="#e" x="2101" y="5956"/><text class="r" x="2116" y="5962">对不起， 还有谢谢你。</text></g>
<g id="r29"><path class="bx" d="M2106 6018H2309L2321 6030V6058H2106Z"/><use href="#e" x="2101" y="6036"/><text class="r" x="2116" y="6042">问灵十三载等一不归人。</text></g>
<g id="r30"><path class="bx" d="M2106 6096H2399L2411 6108V6137H2106Z"/><use href="#e" x="2101" y="6116"/><text class="r" x="2116" y="6122">身前哪管身后事？ 浪得几日是几日。</text></g>
<g id="r31"><path class="bx" d="M2106 6176H2471L2483 6188V6239H2106Z"/><use href="#e" x="2101" y="6207"/><text class="r" y="6202"><tspan x="2116">灵气也是气， 怨气也是气。 怨气为何不能为人</tspan><tspan x="2116" dy="23">所用呢？</tspan></text></g>
<g id="r32"><path class="bx" d="M2106 6279H2471L2483 6291V6480H2106Z"/><use href="#e" x="2101" y="6379"/><text class="r" y="6305"><tspan x="2116">我记性是真的很差。 从前的事有很多我都想不</tspan><tspan x="2116" dy="23">起来了。 但是但是从现在开始。 你说的话做过</tspan><tspan x="2116" dy="23">的事。 我都会记得一件也不会忘。 你特别好我</tspan><tspan x="2116" dy="23">喜欢你。 或者换个说法。 心悦你爱你想要你随</tspan><tspan x="2116" dy="23">便怎么你。 我想一辈子和你一起夜猎。 我还想</tspan><tspan x="2116" dy="23">天天和你上床。 我发誓不是什么一时兴起。 也</tspan><tspan x="2116" dy="23">不是像以前那样逗你玩儿。 更不是因为感激你</tspan><tspan x="2116" dy="23">。</tspan></text></g>
<g id="r33"><path class="bx" d="M2106 6518H2471L2483 6530V6581H2106Z"/><use href="#e" x="2101" y="6550"/><text class="r" y="6544"><tspan x="2116">酒很香， 很醇， 也很辣。 大概能明白那个人为</tspan><tspan x="2116" dy="23">什么会喜欢。 喝他喝过的酒， 受他受过的伤。</tspan></text></g>
<g id="r34"><path class="bx" d="M2106 6621H2471L2483 6633V6707H2106Z"/><use href="#e" x="2101" y="6664"/><text class="r" y="6646"><tspan x="2116">是非在己毁誉由人得失不论。 云梦双杰手牵手</tspan><tspan x="2116" dy="23">， 谁先脱团谁是狗。 为了蓝湛狗就狗， 谁要和</tspan><tspan x="2116" dy="23">你手牵手</tspan></text></g>
<g id="r35"><path class="bx" d="M2106 6749H2471L2483 6761V6833H2106Z"/><use href="#e" x="2101" y="6790"/><text class="r" y="6773"><tspan x="2116">阿羡， 你刚才， 怎么跑那么快， 我还来不及看</tspan><tspan x="2116" dy="23">你一眼， 和你说一句话...我想对你说， 阿羡，</tspan><tspan x="2116" dy="23">你先停下， 别再.....</tspan></text></g>
<g id="r36"><path class="bx" d="M2106 6874H2471L2483 6886V6936H2106Z"/><use href="#e" x="2101" y="6904"/><text class="r" y="6899"><tspan x="2116">锁灵囊， 锁灵囊， 对， 我需要一只锁灵囊， 锁</tspan><tspan x="2116" dy="23">灵囊， 锁灵囊……你欺他眼盲， 骗得他好苦。</tspan></text></g>
<g id="r37"><path class="bx" d="M2106 6976H2399L2411 6988V7015H2106Z"/><use href="#e" x="2101" y="6996"/><text class="r" x="2116" y="7002">霜华敛去君珍重， 再无明月送清风。</text></g>
<g id="r38"><path class="bx" d="M2106 7055H2471L2483 7067V7118H2106Z"/><use href="#e" x="2101" y="7086"/><text class="r" y="7081"><tspan x="2116">那可不行， 你一开口我就笑。 我一笑， 剑就不</tspan><tspan x="2116" dy="23">稳了。</tspan></text></g>
<g id="r39"><path class="bx" d="M2106 7158H2309L2321 7170V7197H2106Z"/><use href="#e" x="2101" y="7177"/><text class="r" x="2116" y="7183">死了好， 死了的才听话。</text></g>
<g id="r40"><path class="bx" d="M2106 7237H2417L2429 7249V7277H2106Z"/><use href="#e" x="2101" y="7257"/><text class="r" x="2116" y="7263">我薛洋， 晓天， 晓地， 却终不晓星尘。</text></g>
<g id="r41"><path class="bx" d="M2106 7317H2471L2483 7329V7401H2106Z"/><use href="#e" x="2101" y="7359"/><text class="r" y="7342"><tspan x="2116">蓝曦臣!如你所言， 我这一生杀父杀兄杀妻杀</tspan><tspan x="2116" dy="23">子杀师杀友， 天下的坏事我什么没做过!……可</tspan><tspan x="2116" dy="23">我独独没有想过要害你。</tspan></text></g>
<g id="r42"><path class="bx" d="M2106 7442H2471L2483 7454V7506H2106Z"/><use href="#e" x="2101" y="7473"/><text class="r" y="7468"><tspan x="2116">为一人而入红尘， 人去我亦去， 此身不留尘。</tspan><tspan x="2116" dy="23">是非在己， 毁誉由人， 得失不论。</tspan></text></g>
<g id="r43"><path class="bx" d="M2106 7545H2471L2483 7557V7608H2106Z"/><use href="#e" x="2101" y="7576"/><text class="r" y="7571"><tspan x="2116">虽修非常道， 但行正义事， 于情于理， 当致谢</tspan><tspan x="2116" dy="23">意。</tspan></text></g>
<g id="r44"><path class="bx" d="M2106 7648H2471L2483 7660V7711H2106Z"/><use href="#e" x="2101" y="7679"/><text class="r" y="7674"><tspan x="2116">阿羡……我马上就要成亲了， 过来给你看看…</tspan><tspan x="2116" dy="23">…只不过， 看不到新郎了……</tspan></text></g>
<g id="r45"><path class="bx" d="M2106 7749H2471L2483 7761V7812H2106Z"/><use href="#e" x="2101" y="7781"/><text class="r" y="7775"><tspan x="2116">你特别好， 我喜欢你。 或者换个说法， 心悦你</tspan><tspan x="2116" dy="23">， 爱你， 随便怎么你……</tspan></text></g>
</g>
</svg>
